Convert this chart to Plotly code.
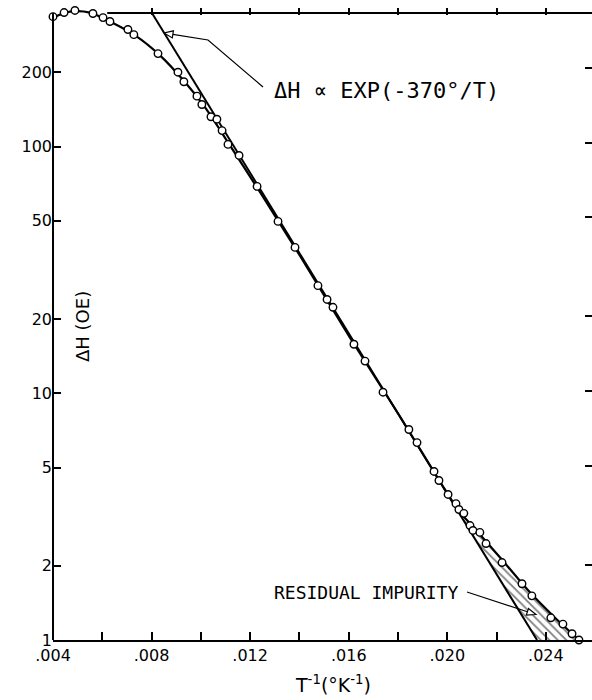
import numpy as np
import plotly.graph_objects as go

# ---------------- data ----------------
inv_T = [0.00400, 0.00445, 0.00489, 0.00562, 0.00603, 0.00631, 0.00704, 0.00728,
         0.00826, 0.00907, 0.00931, 0.00984, 0.01004, 0.01041, 0.01065, 0.01086,
         0.01110, 0.01155, 0.01228, 0.01313, 0.01382, 0.01475, 0.01512, 0.01536,
         0.01621, 0.01666, 0.01739, 0.01844, 0.01877, 0.01946, 0.01966, 0.02003,
         0.02035, 0.02047, 0.02067, 0.02092, 0.02104, 0.02132, 0.02157, 0.02222,
         0.02303, 0.02343, 0.02420, 0.02469, 0.02506, 0.02534]
dH = [336, 349, 356, 346, 333, 321, 298, 284,
      238, 200, 183, 160, 148, 132, 129, 116,
      102, 92, 68.9, 49.7, 39.0, 27.3, 24.0, 22.3,
      15.8, 13.5, 10.1, 7.13, 6.31, 4.82, 4.43, 3.89,
      3.57, 3.38, 3.26, 2.91, 2.78, 2.73, 2.46, 2.06,
      1.69, 1.51, 1.23, 1.16, 1.06, 1.0]

curve_x = [0.00400, 0.00469, 0.00550, 0.00631, 0.00733, 0.00834, 0.00936, 0.01017,
           0.01110, 0.01228, 0.01402, 0.01605, 0.01808, 0.01970, 0.02050, 0.02092,
           0.02214, 0.02335, 0.02437, 0.02534]
curve_y = [333, 352, 349, 321, 282, 234, 182, 144,
           104, 68.2, 36.1, 16.8, 8.05, 4.39, 3.30, 2.97,
           2.16, 1.56, 1.23, 1.0]

fit_x = [0.00802, 0.02364]
fit_y = [347, 1.0]

impurity_start = 0.02050

x_tick_vals = [0.004, 0.008, 0.012, 0.016, 0.020, 0.024]
x_tick_text = ['.004', '.008', '.012', '.016', '.020', '.024']
x_minor_ticks = [0.006, 0.010, 0.014, 0.018, 0.022]
x_top_ticks = [0.008, 0.010, 0.012, 0.014, 0.016, 0.018, 0.020, 0.022, 0.024]
y_tick_vals = [1, 2, 5, 10, 20, 50, 100, 200]
y_tick_text = ['1', '2', '5', '10', '20', '50', '100', '200']
y_right_ticks = [2, 5, 10, 20, 50, 100, 200]

X_RANGE = [0.004, 0.02587]
FRAME_TOP = 2.541          # log10 of the value at the top frame line
Y_RANGE = [0, 2.5613]      # a little head-room above the frame for the top points

# ---------------- layout geometry ----------------
W, H = 592, 700
ML, MR, MT, MB = 53, 0, 8, 60
PW, PH = W - ML - MR, H - MT - MB
FRAME_FRAC = FRAME_TOP / Y_RANGE[1]

def px(x, y):
    return (x - ML) / PW, (H - MB - y) / PH

FONT = "DejaVu Sans"
MONO = "DejaVu Sans Mono"

# ---------------- hatched residual-impurity region ----------------
lfx = np.log10(fit_y)
slope = (lfx[1] - lfx[0]) / (fit_x[1] - fit_x[0])
line_at_start = 10 ** (lfx[0] + slope * (impurity_start - fit_x[0]))
cx = np.array(curve_x)
cy = np.array(curve_y)
mask = cx >= impurity_start
seg_x = list(cx[mask])
seg_y = list(cy[mask])
poly_x = [impurity_start, fit_x[1]] + seg_x[::-1]
poly_y = [line_at_start, fit_y[1]] + seg_y[::-1]

fig = go.Figure()

fig.add_trace(go.Scatter(
    x=poly_x, y=poly_y, mode='lines', fill='toself',
    line=dict(width=0, color='black'),
    fillcolor='rgba(0,0,0,0)',
    fillpattern=dict(shape='\\', size=6, solidity=0.3, fgcolor='black',
                     bgcolor='rgba(0,0,0,0)'),
    hoverinfo='skip', showlegend=False))

fig.add_trace(go.Scatter(
    x=fit_x, y=fit_y, mode='lines',
    line=dict(color='black', width=2), showlegend=False, cliponaxis=False))

fig.add_trace(go.Scatter(
    x=curve_x, y=curve_y, mode='lines',
    line=dict(color='black', width=2.2, shape='spline', smoothing=0.8),
    showlegend=False, cliponaxis=False))

fig.add_trace(go.Scatter(
    x=inv_T, y=dH, mode='markers',
    marker=dict(symbol='circle', size=7.5, color='white',
                line=dict(color='black', width=1.4)),
    showlegend=False, cliponaxis=False))

# invisible trace so the mirrored tick axes are drawn
fig.add_trace(go.Scatter(
    x=fit_x, y=[1.0, 1.0], xaxis='x2', yaxis='y2', mode='markers',
    marker=dict(opacity=0), hoverinfo='skip', showlegend=False))

axis_common = dict(showgrid=False, zeroline=False, color='black')

fig.update_layout(
    width=W, height=H,
    margin=dict(l=ML, r=MR, t=MT, b=MB),
    paper_bgcolor='white', plot_bgcolor='white',
    font=dict(family=FONT, color='black'),
    xaxis=dict(range=X_RANGE, tickvals=x_tick_vals, ticktext=x_tick_text,
               ticks='inside', ticklen=8, tickwidth=1.5, tickcolor='black',
               minor=dict(tickvals=x_minor_ticks, ticks='inside', ticklen=8,
                          tickwidth=1.5, tickcolor='black'),
               showline=True, linewidth=2, linecolor='black',
               tickfont=dict(size=16, family=FONT), **axis_common),
    yaxis=dict(type='log', range=Y_RANGE, tickvals=y_tick_vals, ticktext=y_tick_text,
               ticks='inside', ticklen=8, tickwidth=1.5, tickcolor='black',
               showline=False,
               tickfont=dict(size=16, family=FONT), **axis_common),
    xaxis2=dict(range=X_RANGE, overlaying='x', side='top', anchor='y2',
                tickvals=x_top_ticks, ticks='inside', ticklen=7, tickwidth=1.5,
                tickcolor='black', showticklabels=False, showline=False, **axis_common),
    yaxis2=dict(type='log', range=[0, FRAME_TOP], domain=[0, FRAME_FRAC],
                overlaying='y', side='right', anchor='x2',
                tickvals=y_right_ticks, ticks='inside', ticklen=7, tickwidth=1.5,
                tickcolor='black', showticklabels=False, showline=False, **axis_common),
)

# left frame line (up to the frame top) and partial top frame line
fig.add_shape(type='line', xref='paper', yref='paper', x0=0, x1=0, y0=0, y1=FRAME_FRAC,
              line=dict(color='black', width=2))
fig.add_shape(type='line', xref='x', yref='paper', x0=0.0062, x1=X_RANGE[1],
              y0=FRAME_FRAC, y1=FRAME_FRAC, line=dict(color='black', width=2))

def path_from(points, close=False):
    pts = [px(*p) for p in points]
    s = 'M ' + ' L '.join(f'{a:.5f},{b:.5f}' for a, b in pts)
    return s + (' Z' if close else '')

# leader for the exponential-law label
fig.add_shape(type='path', xref='paper', yref='paper',
              path=path_from([(263, 87), (208, 40), (172.9, 34.4)]),
              line=dict(color='black', width=1.2))
fig.add_shape(type='path', xref='paper', yref='paper',
              path=path_from([(164, 33), (172.3, 37.9), (173.4, 30.9)], close=True),
              fillcolor='white', line=dict(color='black', width=1.2))

# leader for residual impurity
fig.add_shape(type='path', xref='paper', yref='paper',
              path=path_from([(467, 592), (527.4, 611.8)]),
              line=dict(color='black', width=1.2))
fig.add_shape(type='path', xref='paper', yref='paper',
              path=path_from([(536, 614.5), (526.3, 615.1), (528.5, 608.5)], close=True),
              fillcolor='white', line=dict(color='black', width=1.2))

ax, ay = px(272, 90)
fig.add_annotation(xref='paper', yref='paper', x=ax, y=ay, xanchor='left', yanchor='middle',
                   text='ΔH ∝ EXP(-370°/T)', showarrow=False,
                   font=dict(size=22, family=MONO, color='black'))

ax, ay = px(272, 592)
fig.add_annotation(xref='paper', yref='paper', x=ax, y=ay, xanchor='left', yanchor='middle',
                   text='RESIDUAL IMPURITY', showarrow=False,
                   font=dict(size=18, family=MONO, color='black'))

ax, ay = px(82, 327)
fig.add_annotation(xref='paper', yref='paper', x=ax, y=ay, xanchor='center', yanchor='middle',
                   text='ΔH (OE)', textangle=-90, showarrow=False,
                   font=dict(size=18, family=FONT, color='black'))

ax, ay = px(333, 684)
fig.add_annotation(xref='paper', yref='paper', x=ax, y=ay, xanchor='center', yanchor='middle',
                   text='T<sup>-1</sup>(°K<sup>-1</sup>)', showarrow=False,
                   font=dict(size=19, family=FONT, color='black'))

fig.write_html("out.html")
